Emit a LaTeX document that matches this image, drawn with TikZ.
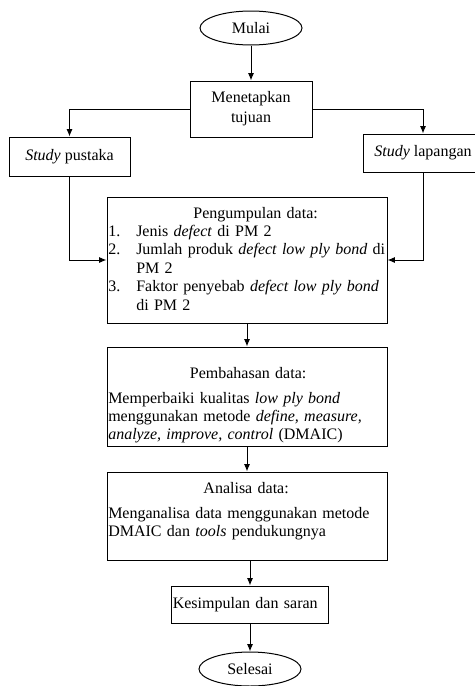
\documentclass[tikz,border=0pt]{standalone}
\usepackage{fontspec}
\setmainfont{Liberation Serif}
\usetikzlibrary{shapes.geometric,arrows.meta}
\newcommand{\butir}[2]{\par\noindent\makebox[21pt][l]{#1}#2}
\newcommand{\lanjut}[1]{\par\noindent\hspace*{21pt}#1}
\begin{document}
\begin{tikzpicture}[x=0.75pt,y=-0.75pt,>={Latex[length=5.5pt,width=4.5pt]},
    garis/.style={line width=0.75pt},
    kotak/.style={draw, garis, rectangle, inner sep=0pt, font=\fontsize{12pt}{15pt}\selectfont},
    elips/.style={draw, garis, ellipse, inner sep=0pt, minimum width=76.5pt, minimum height=25.5pt, font=\fontsize{12pt}{13.8pt}\selectfont},
    isi/.style={inner sep=0pt, text width=200pt, font=\fontsize{12pt}{13.8pt}\selectfont}]
    \path[use as bounding box, clip] (0,0) rectangle (475,686);
    \node[elips] (mulai) at (251,28) {Mulai};
    \node[kotak, align=center, minimum width=91.5pt, minimum height=42pt] (tetap) at (251,109) {Menetapkan\\tujuan};
    \node[kotak, minimum width=90.75pt, minimum height=29.25pt] (pustaka) at (69.5,156.5) {\textit{Study} pustaka};
    \node[kotak, minimum width=90pt, minimum height=28.5pt] (lapangan) at (423,153) {\textit{Study} lapangan};
    \node[kotak, minimum width=210pt, minimum height=94.5pt] (kumpul) at (247,260) {};
    \node[isi, anchor=base west] (kumpulteks) at (108,218) {\noindent\makebox[\linewidth][c]{\hspace*{21pt}Pengumpulan data:}
        \butir{1.}{Jenis \textit{defect} di PM 2}
        \butir{2.}{\makebox[179pt][s]{Jumlah produk \textit{defect low ply bond} di}}
        \lanjut{PM 2}
        \butir{3.}{\makebox[179pt][s]{Faktor penyebab \textit{defect low ply bond}}}
        \lanjut{di PM 2}};
    \node[kotak, minimum width=210pt, minimum height=74.25pt] (bahas) at (247,396.5) {};
    \node[isi, anchor=base west] (bahasteks) at (108,378) {\noindent\makebox[\linewidth][c]{\hspace*{9.75pt}Pembahasan data:}\\[5pt]
        \makebox[\linewidth][s]{Memperbaiki kualitas \textit{low ply bond}}\\
        \makebox[\linewidth][s]{menggunakan metode \textit{define, measure,}}\\
        \textit{analyze, improve, control} (DMAIC)};
    \node[kotak, minimum width=210pt, minimum height=66pt] (analisa) at (247,516) {};
    \node[isi, anchor=base west] (analisateks) at (108,493) {\noindent\makebox[\linewidth][c]{\hspace*{6.75pt}Analisa data:}\\[5pt]
        \makebox[\linewidth][s]{Menganalisa data menggunakan metode}\\
        DMAIC dan \textit{tools} pendukungnya};
    \node[kotak, inner xsep=1pt, text width=115.75pt, align=left, minimum width=117.75pt, minimum height=27.75pt] (simpul) at (250,604.5) {Kesimpulan dan saran};
    \node[elips] (selesai) at (250,669) {Selesai};
    \draw[garis, ->] (mulai) -- (tetap);
    \draw[garis, ->] (tetap.west) -| (pustaka.north);
    \draw[garis, ->] (tetap.east) -| (lapangan.north);
    \draw[garis, ->] (pustaka.south) |- (kumpul.west);
    \draw[garis, ->] (lapangan.south) |- (kumpul.east);
    \draw[garis, ->] (kumpul) -- (bahas);
    \draw[garis, ->] (bahas) -- (analisa);
    \draw[garis, ->] (analisa.south -| simpul.north) -- (simpul.north);
    \draw[garis, ->] (simpul) -- (selesai);
\end{tikzpicture}
\end{document}
